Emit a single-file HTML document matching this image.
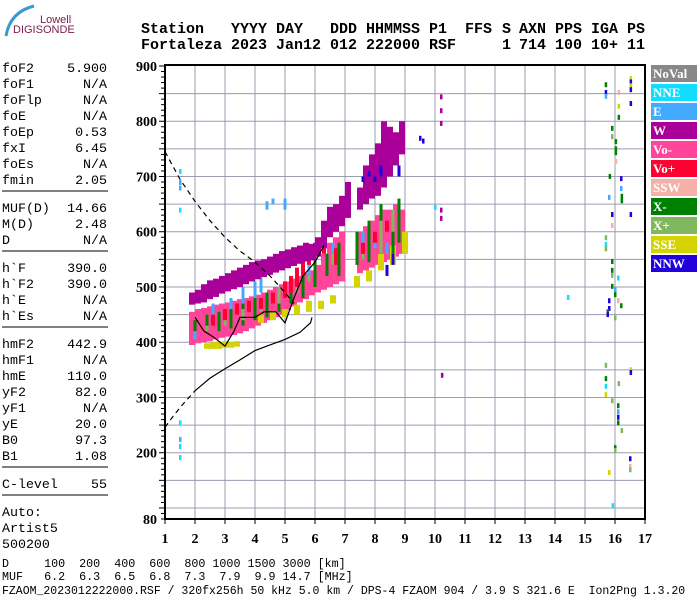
<!DOCTYPE html>
<html><head><meta charset="utf-8"><style>
body{margin:0;background:#fff;width:700px;height:600px;overflow:hidden;position:relative}
.t{position:absolute;font-family:"Liberation Mono",monospace;white-space:pre;color:#000}
</style></head><body>
<svg id="chart" width="700" height="600" xmlns="http://www.w3.org/2000/svg" style="position:absolute;left:0;top:0">
<g>
<path d="M6,36 Q10,12 34,6" stroke="#3a9ad0" stroke-width="3" fill="none"/>
<text x="40" y="23" font-family="Liberation Sans,sans-serif" font-size="11" fill="#7a2050">Lowell</text>
<text x="13" y="33" font-family="Liberation Sans,sans-serif" font-size="11" fill="#7a2050">DIGISONDE</text>
</g>
<g id="header" font-family="Liberation Mono,monospace" font-weight="bold" font-size="15"></g>
<g id="left" font-family="Liberation Mono,monospace" font-size="13.3"></g>
<g id="grid"></g>
<g id="marks"></g>
<g id="lines"></g>
<g id="axes"></g>
<g id="legend"></g>
</svg>
<div class="t" style="left:2px;top:557px;font-size:11.7px">D     100  200  400  600  800 1000 1500 3000 [km]</div>
<div class="t" style="left:2px;top:570px;font-size:11.7px">MUF   6.2  6.3  6.5  6.8  7.3  7.9  9.9 14.7 [MHz]</div>
<div class="t" style="left:2px;top:585px;font-size:11.5px">FZAOM_2023012222000.RSF / 320fx256h 50 kHz 5.0 km / DPS-4 FZAOM 904 / 3.9 S 321.6 E  Ion2Png 1.3.20</div>
<script>
const NS="http://www.w3.org/2000/svg";
const xTicks=[1,2,3,4,5,6,7,8,9,10,11,12,13,14,15,16,17];
const yTicks=[80,200,300,400,500,600,700,800,900];
const legendNames=["NoVal","NNE","E","W","Vo-","Vo+","SSW","X-","X+","SSE","NNW"];
const legendColors=["#888888","#11ddff","#44aaff","#aa0099","#ff4499","#ff0033","#f5b0a8","#008000","#80b860","#d4d400","#2200dd"];
// bands: freq, low height, high height
const pinkF=[1.9,2.1,2.3,2.5,2.7,2.9,3.1,3.3,3.5,3.7,3.9,4.1,4.3,4.5,4.7,4.9,5.1,5.3,5.5,5.7,5.9,6.1,6.3,6.5,6.7,6.9,7.5,7.7,7.9,8.1,8.3,8.5,8.7,8.9];
const pinkLo=[395,398,400,402,405,408,410,413,416,420,425,430,435,440,445,450,458,465,472,478,485,490,495,500,505,510,525,530,535,540,545,550,555,560];
const pinkHi=[455,460,462,465,468,470,472,475,478,480,483,486,490,495,500,505,510,515,520,525,530,540,560,580,590,600,600,610,620,630,640,640,650,640];
const wF=[1.9,2.1,2.3,2.5,2.7,2.9,3.1,3.3,3.5,3.7,3.9,4.1,4.3,4.5,4.7,4.9,5.1,5.3,5.5,5.7,5.9,6.1,6.3,6.5,6.7,6.9,7.1,7.5,7.7,7.9,8.1,8.3,8.5,8.7,8.9];
const wLo=[468,470,472,478,482,488,492,496,500,505,510,514,518,522,526,530,534,538,542,546,548,555,570,590,600,610,625,640,650,660,665,680,700,720,740];
const wHi=[490,495,505,512,515,520,525,530,535,540,545,548,550,555,560,565,568,572,575,580,578,590,620,645,650,665,690,680,720,740,760,800,790,780,800];
const gF=[2.0,2.4,2.8,3.2,3.6,4.0,4.4,4.8,5.2,5.6,6.0,6.4,6.8,7.4,7.8,8.2,8.6,8.8];
const gLo=[410,420,420,425,430,440,445,455,470,480,500,520,520,540,545,560,560,580];
const gHi=[440,450,455,460,470,480,490,500,510,520,560,560,580,600,620,650,620,660];
const rF=[2.6,3.0,3.4,3.8,4.2,4.6,5.0,5.2,5.4,5.6,5.8,6.0,6.3,6.7,7.6,8.0,8.4];
const rLo=[430,440,450,455,460,470,480,490,500,520,540,555,560,540,560,580,600];
const rHi=[450,460,470,475,480,490,510,520,535,555,570,580,590,570,580,600,620];
const eF=[2.0,2.6,3.2,3.6,4.0,4.2,4.4,4.6,5.0,5.4,5.8,6.6,7.6,8.0,8.4];
const eLo=[405,450,460,470,480,490,640,650,640,500,520,560,560,570,560];
const eHi=[420,470,480,500,510,520,655,660,660,520,540,580,600,590,580];
const xpF=[2.4,3.0,3.6,4.2,4.8,5.4,5.8,6.6,7.6,8.2,8.6];
const xpLo=[420,430,440,455,470,490,510,540,550,560,600];
const xpHi=[430,445,460,470,500,520,550,560,600,620,640];
const yF=[2.4,2.6,2.8,3.0,3.2,3.4,4.2,4.6,5.0,5.4,5.8,6.2,6.6,7.4,7.8,8.2,8.6,9.0];
const yLo=[388,388,388,390,390,392,435,440,445,450,455,460,470,500,510,530,540,560];
const yHi=[398,400,400,402,400,402,450,455,460,468,475,475,485,520,530,560,575,600];
const bF=[7.6,7.8,8.0,8.2,8.4,8.6,8.8];
const bLo=[690,700,690,700,520,540,700];
const bHi=[700,710,700,720,540,560,720];
// isolated points
const ptF=[15.69,15.69,15.69,16.52,16.52,16.52,16.52,16.12,16.52,16.12,16.12,15.9,15.9,16.02,16.02,16.02,16.02,16.02,15.82,16.2,16.2,15.8,16.22,16.22,15.9,15.9,16.52,15.69,15.69,15.69,15.9,15.9,15.9,16.1,15.9,16.0,16.0,16.1,15.8,16.2,15.8,15.75,15.75,16.0,14.43,10.23,15.69,15.69,16.52,16.52,16.12,15.69,15.69,15.9,16.1,16.1,16.1,16.1,16.22,16.0,16.0,16.5,16.5,16.5,15.8,15.92,1.5,1.5,1.5,1.5,1.5,1.5,1.5,1.5,10.2,10.2,10.2,10.2,10.2,9.5,9.6,10.0];
const ptH=[867,853,846,878,872,865,858,853,833,828,808,788,773,764,751,744,728,728,701,697,679,663,665,657,632,612,632,590,578,570,547,531,522,517,502,496,487,476,476,467,462,456,451,445,482,341,359,335,351,346,326,321,306,295,286,275,265,255,241,210,205,190,176,170,165,105,710,690,680,640,255,225,212,192,845,820,797,640,625,770,765,645];
const ptC=[7,10,2,9,10,9,10,6,10,9,7,7,8,7,7,7,8,6,7,10,2,2,7,7,10,6,10,8,1,8,7,7,8,1,7,2,7,6,10,7,10,7,10,8,1,3,8,7,9,10,8,1,9,8,7,2,10,7,8,7,8,10,6,8,9,1,1,2,2,1,1,2,1,1,3,3,3,3,3,10,10,1];
// profile lines
const solidF=[2.0,2.5,3.0,3.5,4.0,4.5,5.0,5.5,5.85,5.9];
const solidH=[312,335,352,368,385,395,405,418,435,445];
const lowDashF=[1.0,1.3,1.6,2.0];
const lowDashH=[246,268,288,312];
const topDashF=[1.0,1.5,2.0,2.5,3.0,3.5,4.0,4.5,5.0,5.3];
const topDashH=[745,695,655,620,590,565,545,520,490,470];
const traceF=[2.0,2.3,2.6,3.0,3.3,3.5,4.0,4.3,4.7,5.0,5.3,5.6,6.0,6.3];
const traceH=[445,420,410,393,420,445,445,455,455,435,480,520,545,575];
const leftLabels=[["foF2","5.900"],["foF1","N/A"],["foFlp","N/A"],["foE","N/A"],["foEp","0.53"],["fxI","6.45"],["foEs","N/A"],["fmin","2.05"],null,["MUF(D)","14.66"],["M(D)","2.48"],["D","N/A"],null,["h`F","390.0"],["h`F2","390.0"],["h`E","N/A"],["h`Es","N/A"],null,["hmF2","442.9"],["hmF1","N/A"],["hmE","110.0"],["yF2","82.0"],["yF1","N/A"],["yE","20.0"],["B0","97.3"],["B1","1.08"],null,["C-level","55"],null,["Auto:",""],["Artist5",""],["500200",""]];

const X=f=>165+(f-1)*30;
const Y=h=>519-(h-80)*0.55244;
function mk(tag,parent,attrs){const e=document.createElementNS(NS,tag);for(const k in attrs)e.setAttribute(k,attrs[k]);parent.appendChild(e);return e;}

// header
const hdr=document.getElementById('header');
const h1=[["Station",141],["YYYY",231],["DAY",276],["DDD",330],["HHMMSS",366],["P1",429],["FFS",465],["S",502],["AXN",519],["PPS",555],["IGA",591],["PS",627]];
const h2=[["Fortaleza",141],["2023",231],["Jan12",276],["012",330],["222000",366],["RSF",429],["1",502],["714",519],["100",555],["10+",591],["11",627]];
h1.forEach(([s,x])=>{const t=mk('text',hdr,{x:x,y:33});t.textContent=s;

});
h2.forEach(([s,x])=>{const t=mk('text',hdr,{x:x,y:49});t.textContent=s;

});

// left panel
const lp=document.getElementById('left');
let y=72;
leftLabels.forEach(r=>{
 if(r===null){const l=mk('line',lp,{x1:2,x2:108,y1:y-9,y2:y-9,stroke:'#000','stroke-width':1});
 
 
 y+=12;return;}
 const a=mk('text',lp,{x:2,y:y});a.textContent=r[0];
 
 
 if(r[1]){const b=mk('text',lp,{x:107,y:y,'text-anchor':'end'});b.textContent=r[1];
 
 }
 y+=16;
});

// grid
const g=document.getElementById('grid');
for(let f=2;f<=16;f++){const l=mk('line',g,{x1:X(f),x2:X(f),y1:Y(900),y2:519,stroke:'#9a9cb0','stroke-width':1});

}
for(let h=100;h<900;h+=50){const l=mk('line',g,{x1:165,x2:645,y1:Y(h),y2:Y(h),stroke:'#9a9cb0','stroke-width':1});

}

// marks
const m=document.getElementById('marks');
function band(F,Lo,Hi,c,w,name){F.forEach((f,i)=>{const r=mk('rect',m,{x:X(f)-w/2,y:Y(Hi[i]),width:w,height:Math.max(2,Y(Lo[i])-Y(Hi[i])),fill:c});

});}
band(pinkF,pinkLo,pinkHi,legendColors[4],6,'vo-minus-echo');
band(yF,yLo,yHi,legendColors[9],6,'sse-echo');
band(gF,gLo,gHi,legendColors[7],3,'x-minus-echo');
band(xpF,xpLo,xpHi,legendColors[8],3,'x-plus-echo');
band(eF,eLo,eHi,legendColors[2],3,'e-echo');
band(rF,rLo,rHi,legendColors[5],4,'vo-plus-echo');
band(wF,wLo,wHi,legendColors[3],6,'w-echo');
band(bF,bLo,bHi,legendColors[10],3,'nnw-echo');
ptF.forEach((f,i)=>{const r=mk('rect',m,{x:X(f)-1,y:Y(ptH[i])-2,width:2.5,height:5,fill:legendColors[ptC[i]]});

});

// lines
const L=document.getElementById('lines');
function pl(F,H,dash,name){const p=mk('polyline',L,{points:F.map((f,i)=>X(f)+','+Y(H[i])).join(' '),fill:'none',stroke:'#000','stroke-width':1.2});
if(dash)p.setAttribute('stroke-dasharray','5,4');

}
pl(solidF,solidH,false,'true-height-profile');
pl(lowDashF,lowDashH,true,'profile-extrapolation');
pl(topDashF,topDashH,true,'upper-profile-dashed');
pl(traceF,traceH,false,'virtual-height-trace');

// axes
const A=document.getElementById('axes');
const fr=mk('rect',A,{x:165,y:Y(900)-1,width:480,height:519-Y(900)+1,fill:'none',stroke:'#000','stroke-width':2});


for(let h=80;h<=900;h+=10){const l=mk('line',A,{x1:h%50===0?159:161,x2:165,y1:Y(h),y2:Y(h),stroke:'#000','stroke-width':1});

}
yTicks.forEach(h=>{const t=mk('text',A,{x:157,y:Y(h)+5,'text-anchor':'end','font-family':'Liberation Serif,serif','font-weight':'bold','font-size':14});t.textContent=h;

});
xTicks.forEach(f=>{const l=mk('line',A,{x1:X(f),x2:X(f),y1:519,y2:524,stroke:'#000'});


const t=mk('text',A,{x:X(f),y:543,'text-anchor':'middle','font-family':'Liberation Serif,serif','font-weight':'bold','font-size':14});t.textContent=f;

});

// legend
const lg=document.getElementById('legend');
legendNames.forEach((n,i)=>{const yy=65+i*19;
const r=mk('rect',lg,{x:651,y:yy,width:46,height:17,fill:legendColors[i]});


const t=mk('text',lg,{x:653,y:yy+13,fill:'#fff','font-family':'Liberation Serif,serif','font-weight':'bold','font-size':13});t.textContent=n;

});
</script>
</body></html>
